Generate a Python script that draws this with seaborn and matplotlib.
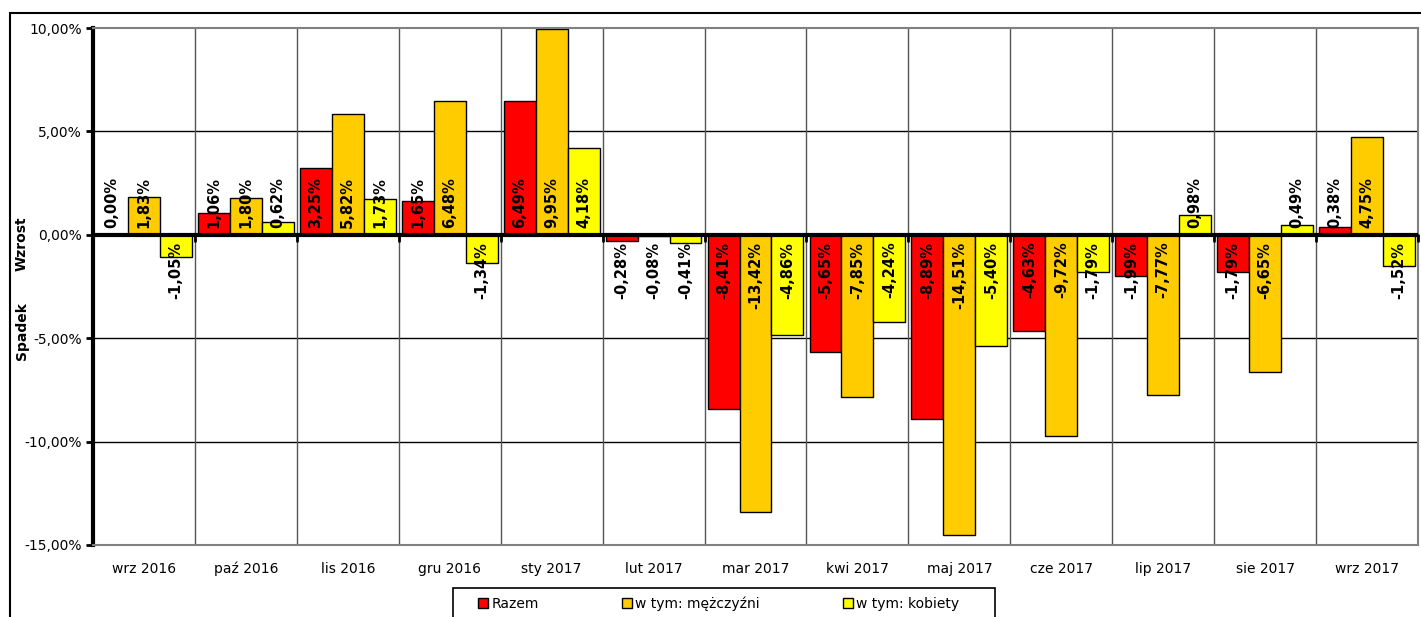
import matplotlib
matplotlib.use("Agg")
import matplotlib.pyplot as plt
import seaborn as sns
import pandas as pd
from matplotlib.patches import Rectangle
from matplotlib.ticker import FuncFormatter

months = ["wrz 2016", "paź 2016", "lis 2016", "gru 2016", "sty 2017", "lut 2017",
          "mar 2017", "kwi 2017", "maj 2017", "cze 2017", "lip 2017", "sie 2017", "wrz 2017"]
series = ["Razem", "w tym: mężczyźni", "w tym: kobiety"]
razem = [0.00, 1.06, 3.25, 1.65, 6.49, -0.28, -8.41, -5.65, -8.89, -4.63, -1.99, -1.79, 0.38]
mezczyzni = [1.83, 1.80, 5.82, 6.48, 9.95, -0.08, -13.42, -7.85, -14.51, -9.72, -7.77, -6.65, 4.75]
kobiety = [-1.05, 0.62, 1.73, -1.34, 4.18, -0.41, -4.86, -4.24, -5.40, -1.79, 0.98, 0.49, -1.52]
colors = ["#FF0000", "#FFCC00", "#FFFF00"]

rows = []
for name, vals in zip(series, [razem, mezczyzni, kobiety]):
    for m, v in zip(months, vals):
        rows.append({"month": m, "series": name, "value": v})
df = pd.DataFrame(rows)

sns.set_style("white")
plt.rcParams["font.family"] = ["DejaVu Sans"]
plt.rcParams["text.color"] = "black"
plt.rcParams["axes.labelcolor"] = "black"
plt.rcParams["xtick.color"] = "black"
plt.rcParams["ytick.color"] = "black"

fig = plt.figure(figsize=(14.21, 6.17), dpi=100)
ax = fig.add_axes([93/1421, 1-545/617, (1418-93)/1421, (545-28)/617])

sns.barplot(data=df, x="month", y="value", hue="series", order=months, hue_order=series,
            palette=colors, edgecolor="black", linewidth=1.0, width=0.94, ax=ax,
            legend=False, saturation=1)

ax.set_ylim(-15, 10)
ax.set_xlim(-0.5, len(months) - 0.5)
ax.set_yticks([10, 5, 0, -5, -10, -15])
ax.yaxis.set_major_formatter(FuncFormatter(lambda v, p: f"{v:.2f}".replace(".", ",") + "%"))
ax.set_xlabel("")
ax.set_ylabel("")

# grid
for y in [5, -5, -10]:
    ax.axhline(y, color="black", lw=1.0, zorder=0)
for i in range(len(months) - 1):
    ax.axvline(i + 0.5, color="#555555", lw=1.0, zorder=0)

for s in ["top", "right", "bottom"]:
    ax.spines[s].set_color("#808080")
    ax.spines[s].set_linewidth(1.5)
ax.spines["left"].set_color("black")
ax.spines["left"].set_linewidth(3)
ax.axhline(0, color="black", lw=3, zorder=5)
for i in range(len(months) + 1):
    ax.plot([i - 0.5, i - 0.5], [0, -0.3], color="black", lw=2, zorder=5, clip_on=False)

ax.tick_params(axis="y", which="major", direction="out", length=5, width=2, color="black",
               labelsize=10, left=True, pad=3, labelcolor="black")
ax.tick_params(axis="x", length=0, labelsize=10, pad=12, labelcolor="black")

# data labels
for cont in ax.containers:
    for bar in cont:
        v = bar.get_height()
        xc = bar.get_x() + bar.get_width() / 2
        txt = f"{v:.2f}".replace(".", ",") + "%"
        if v >= 0:
            ax.annotate(txt, xy=(xc, 0), xytext=(0, 5), textcoords="offset points",
                        rotation=90, ha="center", va="bottom", fontsize=10.5, fontweight="bold",
                        color="black", zorder=6)
        else:
            ax.annotate(txt, xy=(xc, 0), xytext=(0, -5), textcoords="offset points",
                        rotation=90, ha="center", va="top", fontsize=10.5, fontweight="bold",
                        color="black", zorder=6)

fig.text(22/1421, 1-244/617, "Wzrost", rotation=90, ha="center", va="center", fontsize=10, fontweight="bold")
fig.text(22/1421, 1-331/617, "Spadek", rotation=90, ha="center", va="center", fontsize=10, fontweight="bold")

# outer frame
fig.patches.append(Rectangle((10/1421, -0.1), 1.2, 1 - 13/617 + 0.1, transform=fig.transFigure,
                             fill=False, edgecolor="black", lw=1.5))

# legend frame (drawn manually to match wide padding)
fig.patches.append(Rectangle((453/1421, -0.05), (995-453)/1421, 0.05 + 1 - 588/617,
                             transform=fig.transFigure, fill=False, edgecolor="black", lw=1.2))
handles = [Rectangle((0, 0), 1, 1, facecolor=c, edgecolor="black", lw=1) for c in colors]
leg = fig.legend(handles, series, loc="center left", bbox_to_anchor=(478/1421, 1-604/617), ncol=3,
                 frameon=False, fontsize=10,
                 handlelength=0.75, handleheight=0.75, handletextpad=0.2, columnspacing=6.0,
                 borderpad=0.0, borderaxespad=0)

fig.savefig("out.png", dpi=100)
